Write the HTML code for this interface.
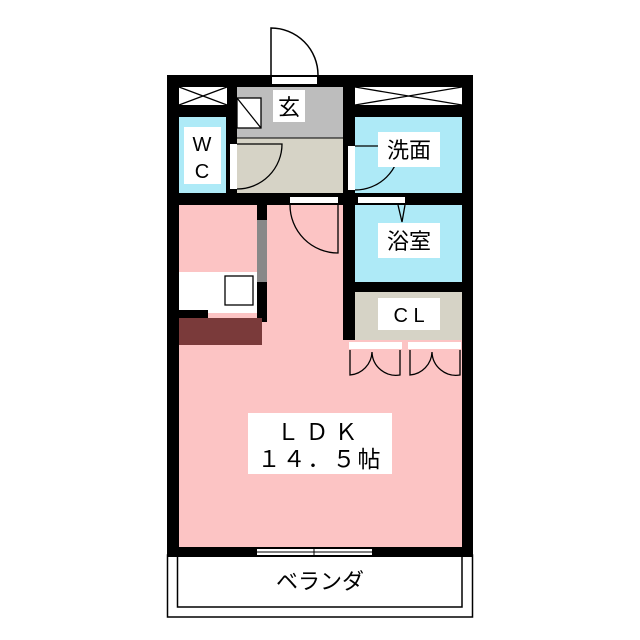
<!DOCTYPE html>
<html><head><meta charset="utf-8"><style>
html,body{margin:0;padding:0;background:#fff;width:640px;height:640px;overflow:hidden}
text{font-family:"Liberation Sans","Noto Sans CJK JP",sans-serif;fill:#000}
</style></head><body>
<svg width="640" height="640" viewBox="0 0 640 640" xmlns="http://www.w3.org/2000/svg">
<rect width="640" height="640" fill="#fff"/>
<!-- balcony -->
<rect x="167.5" y="555" width="305" height="62" fill="#fff" stroke="#000" stroke-width="1.5"/>
<rect x="177.5" y="555" width="284.5" height="52" fill="#fff" stroke="#000" stroke-width="1.5"/>
<!-- outer wall block -->
<rect x="167" y="75" width="306" height="482" fill="#000"/>
<!-- LDK pink -->
<rect x="179" y="205" width="164" height="342" fill="#fcc4c4"/>
<rect x="343" y="340" width="119" height="207" fill="#fcc4c4"/>
<!-- top boxes -->
<rect x="179" y="87" width="48" height="18" fill="#fff"/>
<path d="M179 87 L227 105 M227 87 L179 105" stroke="#000" stroke-width="1.3"/>
<rect x="355" y="87" width="107" height="18" fill="#fff"/>
<path d="M355 87 L462 105 M462 87 L355 105" stroke="#000" stroke-width="1.3"/>
<!-- entry -->
<rect x="237" y="87" width="106" height="51" fill="#bdbdbd"/>
<rect x="237" y="98" width="24" height="30" fill="#fff" stroke="#000" stroke-width="1.3"/>
<path d="M237 98 L261 128" stroke="#000" stroke-width="1.3"/>
<rect x="237" y="138" width="106" height="55" fill="#d6d3c6"/>
<line x1="237" y1="138" x2="343" y2="138" stroke="#000" stroke-width="1"/>
<!-- WC -->
<rect x="179" y="117" width="47" height="76" fill="#aeeaf7"/>
<!-- wash / bath -->
<rect x="355" y="117" width="107" height="76" fill="#aeeaf7"/>
<rect x="355" y="205" width="107" height="77" fill="#aeeaf7"/>
<!-- CL -->
<rect x="355" y="292" width="107" height="48" fill="#d6d3c6"/>
<!-- kitchen partition -->
<rect x="257" y="205" width="10" height="117" fill="#000"/>
<rect x="257" y="220" width="10" height="62" fill="#888"/>
<rect x="179" y="272" width="78" height="38" fill="#fff"/>
<rect x="225" y="276" width="28" height="29" fill="#fff" stroke="#000" stroke-width="1.3"/>
<rect x="179" y="310" width="29" height="8" fill="#000"/>
<rect x="208" y="310" width="49" height="3" fill="#fff"/>
<rect x="179" y="318" width="83" height="27" fill="#7a3a3a"/>
<!-- front door -->
<rect x="272" y="77" width="45" height="7" fill="#fff"/>
<path d="M271 75 L271 28 A47 47 0 0 1 318 75" fill="none" stroke="#000" stroke-width="1.5"/>
<!-- WC door -->
<rect x="230" y="144" width="7" height="45" fill="#fff"/>
<path d="M237 189 A45 45 0 0 0 282 144 L237 144" fill="none" stroke="#000" stroke-width="1.3"/>
<!-- wash door -->
<rect x="348" y="146" width="7" height="44" fill="#fff"/>
<path d="M355 146 L400 146 A45 45 0 0 1 355 190" fill="none" stroke="#000" stroke-width="1.3"/>
<!-- LDK door -->
<rect x="290" y="197" width="48" height="6" fill="#fff"/>
<path d="M290 205 A48 48 0 0 0 338 253 L338 205" fill="none" stroke="#000" stroke-width="1.3"/>
<!-- bath door -->
<rect x="358" y="197" width="47" height="6" fill="#fff"/>
<path d="M398 205 L402 222 L405 205" fill="none" stroke="#000" stroke-width="1.3"/>
<!-- CL doors -->
<rect x="349" y="342" width="53" height="7" fill="#fff"/>
<rect x="408" y="342" width="53" height="7" fill="#fff"/>
<path d="M350 350 L350 375 A24 24 0 0 0 372 352 A24 24 0 0 0 400 375 L400 350" fill="none" stroke="#000" stroke-width="1.3"/>
<path d="M410 350 L410 375 A24 24 0 0 0 432 352 A24 24 0 0 0 460 375 L460 350" fill="none" stroke="#000" stroke-width="1.3"/>
<!-- window -->
<rect x="257" y="549" width="115" height="6" fill="#fff"/>
<line x1="257" y1="552" x2="372" y2="552" stroke="#000" stroke-width="1"/>
<line x1="314" y1="547" x2="314" y2="557" stroke="#000" stroke-width="1"/>
<!-- labels -->
<rect x="273" y="90" width="32" height="32" fill="#fff"/>
<text x="289" y="115" font-size="22" text-anchor="middle">玄</text>
<rect x="184" y="127" width="37" height="57" fill="#fff"/>
<text x="202" y="151" font-size="20" text-anchor="middle">W</text>
<text x="202" y="178" font-size="20" text-anchor="middle">C</text>
<rect x="378" y="132" width="62" height="35" fill="#fff"/>
<text x="409" y="158" font-size="22" text-anchor="middle">洗面</text>
<rect x="378" y="223" width="62" height="35" fill="#fff"/>
<text x="409" y="249" font-size="22" text-anchor="middle">浴室</text>
<rect x="378" y="298" width="62" height="32" fill="#fff"/>
<text x="409" y="322" font-size="20" text-anchor="middle">C L</text>
<rect x="248" y="413" width="144" height="61" fill="#fff"/>
<text x="320" y="440" font-size="23" text-anchor="middle" letter-spacing="6">ＬＤＫ</text>
<text x="320" y="467" font-size="23" text-anchor="middle" letter-spacing="2">１４．５帖</text>
<text x="320" y="589" font-size="22" text-anchor="middle">ベランダ</text>
</svg>
</body></html>
